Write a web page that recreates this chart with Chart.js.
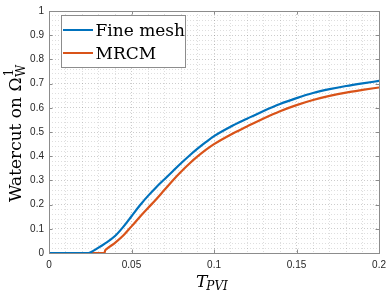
<!DOCTYPE html>
<html>
<head>
<meta charset="utf-8">
<script src="https://cdn.jsdelivr.net/npm/chart.js@4"></script>
<style>
  html, body { margin: 0; padding: 0; background: #fff; }
  canvas { display: block; }
</style>
</head>
<body>
<canvas id="chart" width="392" height="293"></canvas>
<script>
// ─── Data ───────────────────────────────────────────────────
const tPVI = [0, 0.01, 0.02, 0.024, 0.025, 0.03, 0.0336, 0.034, 0.035, 0.04, 0.045,
              0.05, 0.055, 0.06, 0.065, 0.07, 0.075, 0.08, 0.085, 0.09, 0.095, 0.1,
              0.11, 0.12, 0.13, 0.14, 0.15, 0.16, 0.17, 0.18, 0.19, 0.2];

const fineMesh = [0, 0, 0, 0, 0.002, 0.022, 0.038, 0.040, 0.044, 0.070, 0.108,
                  0.152, 0.196, 0.236, 0.272, 0.305, 0.338, 0.371, 0.402, 0.431, 0.458, 0.483,
                  0.522, 0.555, 0.587, 0.616, 0.640, 0.661, 0.677, 0.690, 0.701, 0.711];

const mrcm = [0, 0, 0, 0, 0, 0, 0, 0.010, 0.017, 0.042, 0.072,
              0.110, 0.149, 0.186, 0.222, 0.261, 0.300, 0.336, 0.369, 0.399, 0.426, 0.450,
              0.489, 0.523, 0.556, 0.586, 0.611, 0.632, 0.649, 0.663, 0.674, 0.684];

const xMajorTicks = [0, 0.05, 0.1, 0.15, 0.2];
const yMajorTicks = [0, 0.1, 0.2, 0.3, 0.4, 0.5, 0.6, 0.7, 0.8, 0.9, 1];

const SERIES_COLORS = ['#0072BD', '#D95319'];
const FRAME_COLOR = '#8c8c8c';
const SERIF = '"DejaVu Serif", serif';

const isMajor = (v, list) => list.some(m => Math.abs(m - v) < 1e-6);

// ─── Plugin: box, inward ticks, legend, axis titles ─────────
const matlabAxes = {
    id: 'matlabAxes',
    afterDatasetsDraw(chart) {
        const { ctx, chartArea: a, scales } = chart;
        ctx.save();
        ctx.setLineDash([]);
        ctx.strokeStyle = FRAME_COLOR;
        ctx.lineWidth = 1;
        ctx.strokeRect(Math.round(a.left) + 0.5, Math.round(a.top) + 0.5,
                       Math.round(a.right - a.left), Math.round(a.bottom - a.top));
        const len = 3.5;
        ctx.beginPath();
        xMajorTicks.forEach(v => {
            const x = Math.round(scales.x.getPixelForValue(v)) + 0.5;
            ctx.moveTo(x, a.bottom); ctx.lineTo(x, a.bottom - len);
            ctx.moveTo(x, a.top); ctx.lineTo(x, a.top + len);
        });
        yMajorTicks.forEach(v => {
            const y = Math.round(scales.y.getPixelForValue(v)) + 0.5;
            ctx.moveTo(a.left, y); ctx.lineTo(a.left + len, y);
            ctx.moveTo(a.right, y); ctx.lineTo(a.right - len, y);
        });
        ctx.stroke();

        // legend box
        const lx = 61, ly = 15, lw = 124, lh = 52;
        ctx.fillStyle = '#fff';
        ctx.fillRect(lx, ly, lw, lh);
        ctx.strokeRect(lx + 0.5, ly + 0.5, lw, lh);
        ctx.font = '17px ' + SERIF;
        ctx.textBaseline = 'alphabetic';
        ctx.textAlign = 'left';
        chart.data.datasets.forEach((ds, i) => {
            const yy = 30 + i * 23;
            ctx.strokeStyle = ds.borderColor;
            ctx.lineWidth = 2;
            ctx.beginPath();
            ctx.moveTo(63, yy); ctx.lineTo(93, yy);
            ctx.stroke();
            ctx.fillStyle = '#000';
            ctx.fillText(ds.label, 95.5, yy + 6);
        });

        // y title: Watercut on Ω_W^1
        ctx.save();
        ctx.translate(21, 202);
        ctx.rotate(-Math.PI / 2);
        ctx.fillStyle = '#000';
        ctx.font = '17px ' + SERIF;
        const main = 'Watercut on Ω';
        ctx.fillText(main, 0, 0);
        const w = ctx.measureText(main).width;
        ctx.font = '12px ' + SERIF;
        ctx.fillText('1', w + 1, -8);
        ctx.fillText('W', w + 0.5, 4);
        ctx.restore();

        // x title: T_PVI
        ctx.fillStyle = '#000';
        ctx.font = 'italic 17px ' + SERIF;
        ctx.fillText('T', 196, 287);
        const tw = ctx.measureText('T').width;
        ctx.font = 'italic 12px ' + SERIF;
        ctx.fillText('PVI', 196 + tw - 1, 290);
        ctx.restore();
    }
};

const gridColor = ctx => isMajor(ctx.tick.value, ctx.scale.axis === 'x' ? xMajorTicks : yMajorTicks)
    ? 'rgba(0,0,0,0.2)' : 'rgba(0,0,0,0.13)';

new Chart(document.getElementById('chart'), {
    type: 'line',
    data: {
        datasets: [
            {
                label: 'Fine mesh',
                data: tPVI.map((t, i) => ({ x: t, y: fineMesh[i] })),
                borderColor: SERIES_COLORS[0],
                borderWidth: 2.2,
                pointRadius: 0,
                cubicInterpolationMode: 'monotone',
            },
            {
                label: 'MRCM',
                data: tPVI.map((t, i) => ({ x: t, y: mrcm[i] })),
                borderColor: SERIES_COLORS[1],
                borderWidth: 2.2,
                pointRadius: 0,
                cubicInterpolationMode: 'monotone',
            },
        ],
    },
    options: {
        responsive: false,
        devicePixelRatio: 1,
        animation: false,
        layout: { padding: { left: 0, right: 10, top: 6, bottom: 0 } },
        plugins: { legend: { display: false }, tooltip: { enabled: false } },
        scales: {
            x: {
                type: 'linear',
                min: 0, max: 0.2,
                afterFit: s => { s.height = 40; },
                border: { display: false, dash: [1, 2] },
                grid: { color: gridColor, drawTicks: false, lineWidth: 1 },
                ticks: {
                    stepSize: 0.01,
                    autoSkip: false,
                    maxRotation: 0,
                    padding: 6,
                    color: '#262626',
                    font: { family: '"Liberation Sans", Arial, sans-serif', size: 10 },
                    callback: v => isMajor(v, xMajorTicks) ? String(Number(v.toFixed(2))) : '',
                },
            },
            y: {
                min: 0, max: 1,
                afterFit: s => { s.width = 49; },
                border: { display: false, dash: [1, 2] },
                grid: { color: gridColor, drawTicks: false, lineWidth: 1 },
                ticks: {
                    stepSize: 0.02,
                    autoSkip: false,
                    padding: 5,
                    color: '#262626',
                    font: { family: '"Liberation Sans", Arial, sans-serif', size: 10 },
                    callback: v => isMajor(v, yMajorTicks) ? String(Number(v.toFixed(1))) : '',
                },
            },
        },
    },
    plugins: [matlabAxes],
});
</script>
</body>
</html>
